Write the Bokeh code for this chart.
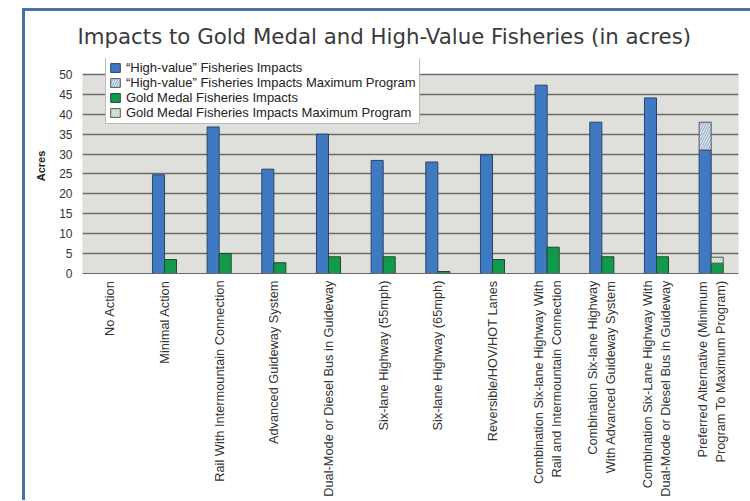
import math
from bokeh.plotting import figure
from bokeh.layouts import column
from bokeh.models import ColumnDataSource, FactorRange, Legend, LegendItem, BoxAnnotation
from bokeh.transform import dodge
from bokeh.embed import file_html
from bokeh.resources import INLINE

nan = float("nan")

categories = [
    "No Action",
    "Minimal Action",
    "Rail With Intermountain Connection",
    "Advanced Guideway System",
    "Dual-Mode or Diesel Bus in Guideway",
    "Six-lane Highway (55mph)",
    "Six-lane Highway (65mph)",
    "Reversible/HOV/HOT Lanes",
    "Combination Six-lane Highway With\nRail and Intermountain Connection",
    "Combination Six-lane Highway\nWith Advanced Guideway System",
    "Combination Six-Lane Highway With\nDual-Mode or Diesel Bus in Guideway",
    "Preferred Alternative (Minimum\nProgram To Maximum Program)",
]
high_value = [0, 24.8, 36.8, 26.2, 35.0, 28.4, 28.0, 29.8, 47.3, 38.0, 44.1, 31.0]
high_value_max = [nan, nan, nan, nan, nan, nan, nan, nan, nan, nan, nan, 38.0]
gold_medal = [0, 3.5, 5.0, 2.7, 4.2, 4.2, 0.5, 3.5, 6.6, 4.2, 4.2, 2.6]
gold_medal_max = [nan, nan, nan, nan, nan, nan, nan, nan, nan, nan, nan, 4.1]
y_ticks = [0, 5, 10, 15, 20, 25, 30, 35, 40, 45, 50]
series_names = [
    "\u201cHigh-value\u201d Fisheries Impacts",
    "\u201cHigh-value\u201d Fisheries Impacts Maximum Program",
    "Gold Medal Fisheries Impacts",
    "Gold Medal Fisheries Impacts Maximum Program",
]
title_text = "Impacts to Gold Medal and High-Value Fisheries (in acres)"

src = ColumnDataSource(dict(cat=categories, hv=high_value, hv_max=high_value_max,
                            gm=gold_medal, gm_max=gold_medal_max))

FONT = "Liberation Sans"
BLUE = "#3f79c2"
BLUE_LINE = "#2a4466"
GREEN = "#129a4c"
GREEN_LINE = "#1e4a2c"
FRAME_BLUE = "#4a72a8"

p = figure(x_range=FactorRange(*categories), y_range=(0, 54),
           width=725, height=489, output_backend="svg", toolbar_location=None,
           min_border_left=57, min_border_right=12, min_border_top=46, min_border_bottom=227,
           title=title_text)
p.background_fill_color = "white"
p.border_fill_color = "white"
p.outline_line_color = None

# gray plot area spanning the tick range
p.add_layout(BoxAnnotation(bottom=y_ticks[0], top=y_ticks[-1], fill_color="#dfdfdb", fill_alpha=1,
                           line_color="#b0b0b0", line_width=1, level="image"))

r_hv = p.vbar(x=dodge("cat", -0.11, range=p.x_range), top="hv", width=0.22, source=src,
              fill_color=BLUE, line_color=BLUE_LINE, line_width=1)
r_hvm = p.vbar(x=dodge("cat", -0.11, range=p.x_range), bottom="hv", top="hv_max", width=0.22, source=src,
               fill_color="#dde4ee", line_color="#555555", line_width=1,
               hatch_pattern="/", hatch_color="#8ea6c8", hatch_scale=5, hatch_weight=1)
r_gm = p.vbar(x=dodge("cat", 0.11, range=p.x_range), top="gm", width=0.22, source=src,
              fill_color=GREEN, line_color=GREEN_LINE, line_width=1)
r_gmm = p.vbar(x=dodge("cat", 0.11, range=p.x_range), bottom="gm", top="gm_max", width=0.22, source=src,
               fill_color="#e2efe6", line_color="#555555", line_width=1,
               hatch_pattern="/", hatch_color="#a8cbb3", hatch_scale=5, hatch_weight=1)

p.xgrid.grid_line_color = None
p.ygrid.grid_line_color = "#6c6c6c"
p.ygrid.grid_line_width = 1.5
p.ygrid.ticker = y_ticks

p.yaxis.ticker = y_ticks
p.yaxis.axis_line_color = None
p.yaxis.major_tick_line_color = None
p.yaxis.major_tick_out = 0
p.yaxis.major_tick_in = 0
p.yaxis.minor_tick_line_color = None
p.yaxis.major_label_text_font = FONT
p.yaxis.major_label_text_font_size = "12px"
p.yaxis.major_label_text_color = "#333333"
p.yaxis.major_label_standoff = 10
p.yaxis.axis_label = "Acres"
p.yaxis.axis_label_text_font = FONT
p.yaxis.axis_label_text_font_size = "11px"
p.yaxis.axis_label_text_font_style = "bold"
p.yaxis.axis_label_text_color = "#222222"
p.yaxis.axis_label_standoff = 9

p.xaxis.axis_line_color = "#666666"
p.xaxis.major_tick_line_color = None
p.xaxis.major_tick_out = 0
p.xaxis.major_tick_in = 0
p.xaxis.minor_tick_line_color = None
p.xaxis.major_label_orientation = math.pi / 2
p.xaxis.major_label_text_font = FONT
p.xaxis.major_label_text_font_size = "12.8px"
p.xaxis.major_label_text_color = "#333333"
p.xaxis.major_label_standoff = 7

legend = Legend(items=[LegendItem(label=series_names[0], renderers=[r_hv]),
                       LegendItem(label=series_names[1], renderers=[r_hvm]),
                       LegendItem(label=series_names[2], renderers=[r_gm]),
                       LegendItem(label=series_names[3], renderers=[r_gmm])],
                location=(23, 149), orientation="vertical")
legend.label_text_font = FONT
legend.label_text_font_size = "13px"
legend.label_text_color = "#222222"
legend.label_height = 14
legend.glyph_height = 11
legend.glyph_width = 12
legend.label_standoff = 5
legend.spacing = 0
legend.padding = 3
legend.margin = 0
legend.border_line_color = "#777777"
legend.background_fill_color = "white"
legend.background_fill_alpha = 1.0
p.add_layout(legend)

p.title.text_font = "DejaVu Sans"
p.title.text_font_size = "21.3px"
p.title.text_font_style = "normal"
p.title.text_color = "#3a3a3a"
p.title.align = "left"
p.title.offset = -5
p.title.standoff = 20

layout = column(p, styles={"border-left": "3px solid " + FRAME_BLUE,
                           "border-top": "3px solid " + FRAME_BLUE,
                           "margin-left": "22px",
                           "margin-top": "8px"})

open("out.html", "w").write(file_html(layout, INLINE))
